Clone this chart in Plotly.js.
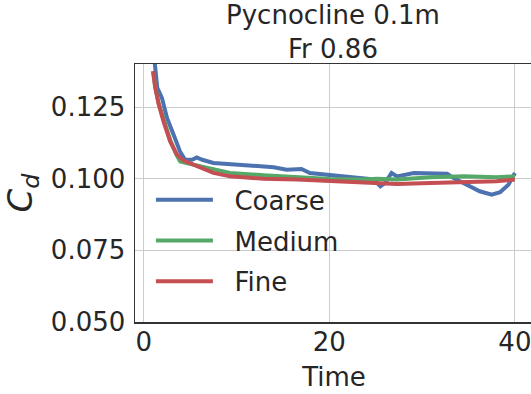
<!DOCTYPE html>
<html>
<head>
<meta charset="utf-8">
<script src="https://cdn.plot.ly/plotly-3.0.1.min.js"></script>
<style>
html, body { margin: 0; padding: 0; overflow: hidden; background: #ffffff; }
#chart { width: 533px; height: 394px; }
</style>
</head>
<body>
<div id="chart"></div>
<script>
// Series names
const seriesNames = ["Coarse", "Medium", "Fine"];

// Coarse grid
const coarseTime = [1.0, 1.2, 1.45, 1.95, 2.5, 3.2, 3.9, 4.45, 5.2, 5.7, 6.3, 7.5, 9.3, 11.1, 12.9, 14.0, 15.4, 16.5, 17.0, 17.9, 20.1, 21.9, 23.7, 24.8, 25.5, 26.0, 26.7, 27.3, 29.1, 30.9, 32.7, 33.4, 34.8, 36.2, 37.5, 38.4, 39.3, 40.0];
const coarseCd = [0.146, 0.138, 0.1317, 0.1282, 0.1212, 0.1154, 0.1095, 0.1066, 0.1066, 0.1074, 0.1066, 0.1055, 0.1051, 0.1047, 0.1041, 0.1040, 0.1031, 0.1031, 0.1034, 0.1020, 0.1012, 0.1006, 0.1002, 0.0997, 0.0973, 0.0985, 0.1020, 0.1008, 0.1020, 0.1020, 0.1017, 0.1002, 0.0979, 0.0956, 0.0944, 0.0953, 0.0979, 0.1020];

// Medium grid
const mediumTime = [1.0, 1.23, 1.6, 2.12, 2.84, 3.5, 3.92, 4.5, 5.72, 7.5, 9.3, 12.9, 16.5, 20.1, 23.7, 25.1, 27.3, 30.9, 34.5, 38.0, 40.0];
const mediumCd = [0.1375, 0.1320, 0.1262, 0.1205, 0.1135, 0.1085, 0.1060, 0.1055, 0.1046, 0.1030, 0.1020, 0.1012, 0.1005, 0.0999, 0.0997, 0.1000, 0.0997, 0.1005, 0.1008, 0.1005, 0.1008];

// Fine grid
const fineTime = [1.0, 1.23, 1.6, 2.12, 2.84, 3.57, 4.28, 5.0, 5.72, 7.5, 9.3, 12.9, 16.5, 20.1, 23.7, 27.3, 30.9, 34.5, 38.0, 40.0];
const fineCd = [0.1375, 0.1317, 0.126, 0.120, 0.113, 0.1084, 0.1063, 0.1053, 0.1043, 0.1020, 0.1008, 0.1000, 0.0997, 0.0991, 0.0985, 0.0981, 0.0985, 0.0987, 0.0991, 0.0997];

const xTicks = [0, 20, 40];
const yTicks = [0.050, 0.075, 0.100, 0.125];
const yTickText = ["0.050", "0.075", "0.100", "0.125"];

const colors = ["#4C72B0", "#55A868", "#C44E52"];
const xs = [coarseTime, mediumTime, fineTime];
const ys = [coarseCd, mediumCd, fineCd];

const traces = seriesNames.map((name, i) => ({
  type: "scatter",
  mode: "lines",
  name: "\u00a0\u00a0" + name,
  x: xs[i],
  y: ys[i],
  legendgroup: "g" + i,
  line: { color: colors[i], width: 4 }
}));

const txt = "#262626";
const layout = {
  width: 533,
  height: 394,
  paper_bgcolor: "#ffffff",
  plot_bgcolor: "#ffffff",
  font: { family: "DejaVu Sans", color: txt, size: 26 },
  margin: { l: 135, r: 0, t: 64, b: 72, pad: 0 },
  title: {
    text: "Pycnocline 0.1m<br>Fr 0.86",
    font: { family: "DejaVu Sans", size: 26, color: txt },
    x: 333 / 533,
    xanchor: "center",
    y: 1 - 24 / 394,
    yanchor: "top"
  },
  xaxis: {
    range: [-0.95, 41.95],
    tickvals: xTicks,
    ticks: "",
    ticklabelstandoff: -4,
    tickfont: { size: 26, color: txt },
    showgrid: true,
    gridcolor: "#cccccc",
    gridwidth: 1,
    zeroline: false,
    showline: true,
    mirror: true,
    linecolor: "#333333",
    linewidth: 1.5,
    title: { text: "Time", font: { size: 26, color: txt }, standoff: 12 }
  },
  yaxis: {
    range: [0.05, 0.14],
    tickvals: yTicks,
    ticktext: yTickText,
    ticks: "",
    ticklabelstandoff: 3,
    tickfont: { size: 26, color: txt },
    showgrid: true,
    gridcolor: "#cccccc",
    gridwidth: 1,
    zeroline: false,
    showline: true,
    mirror: true,
    linecolor: "#333333",
    linewidth: 1.5,
    title: { text: "<i>C</i><sub><i>d</i></sub>", font: { size: 34, color: txt }, standoff: 8 }
  },
  showlegend: true,
  legend: {
    x: 0.04,
    y: 0.565,
    xanchor: "left",
    yanchor: "top",
    bgcolor: "rgba(255,255,255,0)",
    borderwidth: 0,
    font: { size: 26, color: txt },
    traceorder: "grouped",
    tracegroupgap: 4,
    itemwidth: 57
  }
};

Plotly.newPlot("chart", traces, layout, { displayModeBar: false, staticPlot: true });
</script>
</body>
</html>
